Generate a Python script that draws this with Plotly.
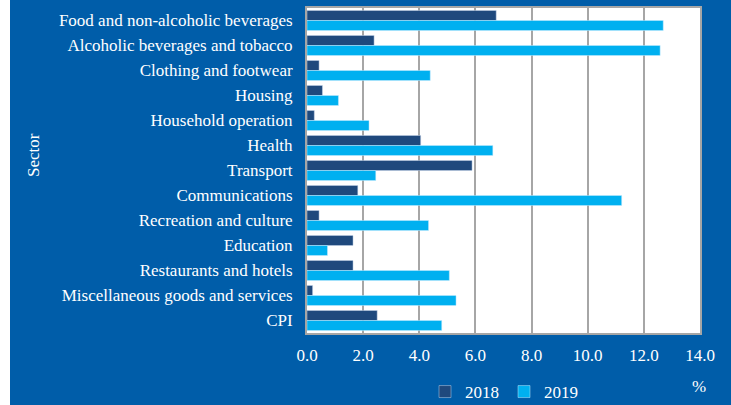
import plotly.graph_objects as go

sectors = [
    "Food and non-alcoholic beverages",
    "Alcoholic beverages and tobacco",
    "Clothing and footwear",
    "Housing",
    "Household operation",
    "Health",
    "Transport",
    "Communications",
    "Recreation and culture",
    "Education",
    "Restaurants and hotels",
    "Miscellaneous goods and services",
    "CPI",
]
values_2018 = [6.74, 2.39, 0.43, 0.55, 0.26, 4.05, 5.88, 1.81, 0.43, 1.64, 1.64, 0.20, 2.50]
values_2019 = [12.69, 12.58, 4.39, 1.12, 2.21, 6.62, 2.45, 11.21, 4.33, 0.73, 5.07, 5.31, 4.80]
x_ticks = [0, 2, 4, 6, 8, 10, 12, 14]
x_tick_labels = ["0.0", "2.0", "4.0", "6.0", "8.0", "10.0", "12.0", "14.0"]

BG = "#005DA9"
FONT = "Liberation Serif"
FS = 17

L, R, T, B = 307, 31, 8, 72
PW = 731 - L - R
PH = 405 - T - B

fig = go.Figure()
fig.add_trace(go.Bar(
    y=sectors, x=values_2018, name="2018", orientation="h",
    marker=dict(color="#1F497D", line=dict(color="rgba(200,215,235,0.6)", width=0.8)),
))
fig.add_trace(go.Bar(
    y=sectors, x=values_2019, name="2019", orientation="h",
    marker=dict(color="#00B0F0", line=dict(color="rgba(200,235,255,0.6)", width=0.8)),
))

fig.update_layout(
    width=731, height=405,
    margin=dict(l=L, r=R, t=T, b=B, autoexpand=False),
    paper_bgcolor=BG,
    plot_bgcolor="white",
    barmode="group",
    bargap=0.2,
    bargroupgap=0,
    font=dict(family=FONT, color="white", size=FS),
    showlegend=True,
    legend=dict(
        orientation="h", x=(425 - L) / PW, xanchor="left",
        y=-(392 - T - PH) / PH, yanchor="middle",
        font=dict(family=FONT, size=FS, color="white"),
        bgcolor="rgba(0,0,0,0)", itemwidth=30, tracegroupgap=0,
    ),
    xaxis=dict(
        range=[0, 14], tickvals=x_ticks, ticktext=x_tick_labels,
        showgrid=True, gridcolor="#A6A6A6", gridwidth=1.5,
        showline=True, linecolor="#A6A6A6", linewidth=2, mirror=True,
        zeroline=False, ticks="", ticklabelstandoff=6, automargin=False,
        tickfont=dict(family=FONT, size=FS, color="white"),
    ),
    yaxis=dict(
        autorange="reversed", showgrid=False,
        showline=True, linecolor="#A6A6A6", linewidth=2, mirror=True,
        ticks="", ticklabelstandoff=9, automargin=False,
        tickfont=dict(family=FONT, size=FS, color="white"),
    ),
    shapes=[dict(
        type="rect", xref="paper", yref="paper",
        x0=-L / PW, x1=-(L - 10) / PW, y0=-B / PH, y1=1 + T / PH,
        fillcolor="white", line=dict(width=0), layer="above",
    )],
    annotations=[
        dict(text="Sector", xref="paper", yref="paper",
             x=-(L - 33) / PW, y=1 - (155 - T) / PH, textangle=-90,
             xanchor="center", yanchor="middle",
             showarrow=False, font=dict(family=FONT, size=FS, color="white")),
        dict(text="%", xref="paper", yref="paper",
             x=(699 - L) / PW, y=-(386 - T - PH) / PH,
             xanchor="center", yanchor="middle",
             showarrow=False, font=dict(family=FONT, size=FS, color="white")),
    ],
)

fig.write_html("out.html", config={"displayModeBar": False},
               post_script="document.body.style.margin='0';")
